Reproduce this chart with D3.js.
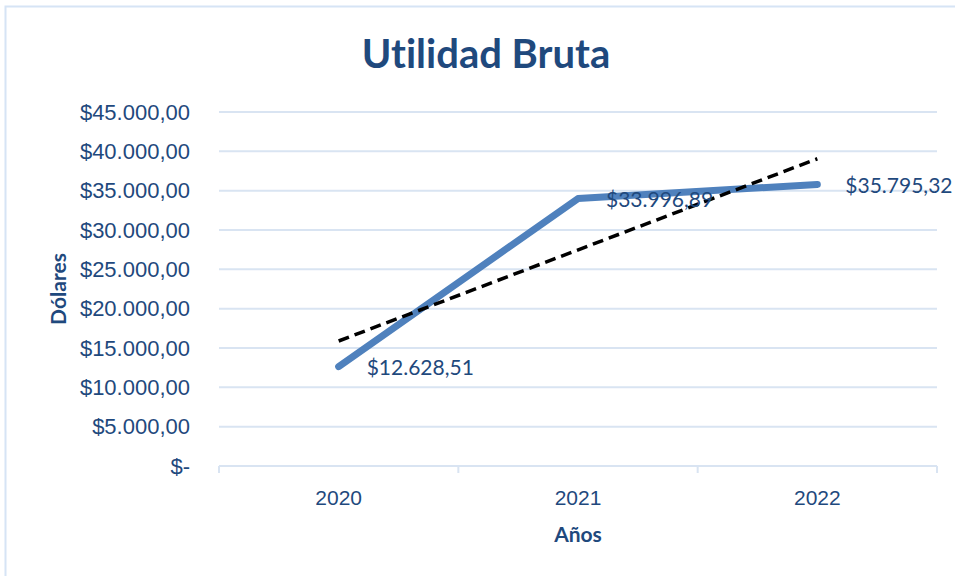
<!DOCTYPE html>
<html>
<head>
<meta charset="utf-8">
<script src="https://cdn.jsdelivr.net/npm/d3@7"></script>
<style>
  body { margin: 0; background: #fff; }
  svg { display: block; font-family: Lato, "Open Sans", sans-serif; font-variant-ligatures: none; }
</style>
</head>
<body>
<script>
var years = ['2020', '2021', '2022'];
var utilidad = [12628.51, 33996.89, 35795.32];
var yTicks = [0, 5000, 10000, 15000, 20000, 25000, 30000, 35000, 40000, 45000];

var width = 955, height = 576;
var margin = {left: 219, right: 18, top: 112, bottom: 110};
var textColor = '#1F497D';

var svg = d3.select('body').append('svg')
  .attr('width', width)
  .attr('height', height);

// chart frame, runs off the right/bottom edge like the original
svg.append('rect')
  .attr('x', 5.5).attr('y', 6.5)
  .attr('width', 1000).attr('height', 1000)
  .attr('fill', 'none')
  .attr('stroke', '#D6E4F5')
  .attr('stroke-width', 2);

var x = d3.scaleBand()
  .domain(years)
  .range([margin.left, width - margin.right]);

var y = d3.scaleLinear()
  .domain([0, 45000])
  .range([height - margin.bottom, margin.top]);

var fmt = function(v) {
  if (v === 0) return '$-';
  var s = d3.format(',.2f')(v);
  return '$' + s.replace(/,/g, '#').replace('.', ',').replace(/#/g, '.');
};

// gridlines
svg.append('g')
  .selectAll('line')
  .data(yTicks.slice(1))
  .enter().append('line')
  .attr('x1', margin.left).attr('x2', width - margin.right)
  .attr('y1', function(d) { return y(d); })
  .attr('y2', function(d) { return y(d); })
  .attr('stroke', '#D9E4F2')
  .attr('stroke-width', 2);

// y labels
var yAxis = svg.append('g')
  .attr('transform', 'translate(' + margin.left + ',0)')
  .call(d3.axisLeft(y).tickValues(yTicks).tickFormat(fmt).tickSize(0).tickPadding(29));
yAxis.select('.domain').remove();
yAxis.selectAll('text')
  .attr('fill', textColor)
  .style('font-size', '22px');

// x axis with ticks at band edges
var xAxis = svg.append('g')
  .attr('transform', 'translate(0,' + y(0) + ')')
  .call(d3.axisBottom(x).tickSize(0).tickPadding(24));
xAxis.select('.domain').remove();
xAxis.selectAll('text')
  .attr('fill', textColor)
  .style('font-size', '21px');

svg.append('line')
  .attr('x1', margin.left).attr('x2', width - margin.right)
  .attr('y1', y(0)).attr('y2', y(0))
  .attr('stroke', '#D9E4F2').attr('stroke-width', 2);

var edges = years.map(function(d) { return x(d); }).concat([width - margin.right]);
svg.append('g').selectAll('line')
  .data(edges)
  .enter().append('line')
  .attr('x1', function(d) { return d; }).attr('x2', function(d) { return d; })
  .attr('y1', y(0)).attr('y2', y(0) + 7)
  .attr('stroke', '#D9E4F2').attr('stroke-width', 2);

var cx = function(d, i) { return x(years[i]) + x.bandwidth() / 2; };

// series line
svg.append('path')
  .datum(utilidad)
  .attr('fill', 'none')
  .attr('stroke', '#4F81BD')
  .attr('stroke-width', 7)
  .attr('stroke-linecap', 'round')
  .attr('stroke-linejoin', 'round')
  .attr('d', d3.line().x(cx).y(function(d) { return y(d); }));

// linear trendline (least squares over the 3 points)
var n = utilidad.length;
var mx = (n + 1) / 2;
var my = d3.mean(utilidad);
var sxy = 0, sxx = 0;
utilidad.forEach(function(v, i) {
  sxy += (i + 1 - mx) * (v - my);
  sxx += (i + 1 - mx) * (i + 1 - mx);
});
var slope = sxy / sxx;
var trend = utilidad.map(function(v, i) { return my + slope * (i + 1 - mx); });

svg.append('path')
  .datum([trend[0], trend[n - 1]])
  .attr('fill', 'none')
  .attr('stroke', '#000')
  .attr('stroke-width', 3.5)
  .attr('stroke-dasharray', '11,6')
  .attr('d', d3.line()
    .x(function(d, i) { return cx(d, i === 0 ? 0 : n - 1); })
    .y(function(d) { return y(d); }));

// data labels
svg.append('g').selectAll('text')
  .data(utilidad)
  .enter().append('text')
  .attr('x', function(d, i) { return cx(d, i) + 28; })
  .attr('y', function(d) { return y(d) + 1; })
  .attr('dy', '0.35em')
  .attr('fill', textColor)
  .style('font-size', '21px')
  .text(fmt);

// title
svg.append('text')
  .attr('x', 486).attr('y', 68)
  .attr('text-anchor', 'middle')
  .attr('fill', textColor)
  .style('font-size', '40px')
  .style('font-weight', 'bold')
  .text('Utilidad Bruta');

// axis titles
svg.append('text')
  .attr('transform', 'translate(66,' + ((margin.top + y(0)) / 2) + ') rotate(-90)')
  .attr('text-anchor', 'middle')
  .attr('fill', textColor)
  .style('font-size', '21px')
  .style('font-weight', 'bold')
  .text('Dólares');

svg.append('text')
  .attr('x', x('2021') + x.bandwidth() / 2).attr('y', 542)
  .attr('text-anchor', 'middle')
  .attr('fill', textColor)
  .style('font-size', '21px')
  .style('font-weight', 'bold')
  .text('Años');
</script>
</body>
</html>
